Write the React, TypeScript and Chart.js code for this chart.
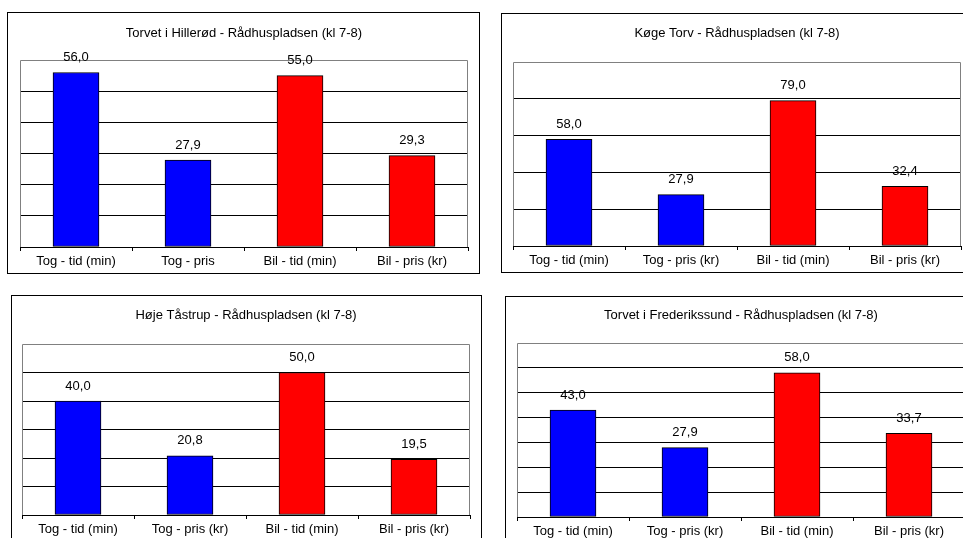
import React, { useEffect, useRef } from "react";
import { Chart, registerables } from "chart.js";

Chart.register(...registerables);

// Travel comparisons towards Rådhuspladsen, morning rush (kl 7-8)
const TITLE_HILLEROD = "Torvet i Hillerød - Rådhuspladsen (kl 7-8)";
const TITLE_KOGE = "Køge Torv - Rådhuspladsen (kl 7-8)";
const TITLE_TAASTRUP = "Høje Tåstrup - Rådhuspladsen (kl 7-8)";
const TITLE_FREDERIKSSUND = "Torvet i Frederikssund - Rådhuspladsen (kl 7-8)";

const CATEGORIES_HILLEROD = ["Tog - tid (min)", "Tog - pris", "Bil - tid (min)", "Bil - pris (kr)"];
const CATEGORIES = ["Tog - tid (min)", "Tog - pris (kr)", "Bil - tid (min)", "Bil - pris (kr)"];

const VALUES_HILLEROD = [56.0, 27.9, 55.0, 29.3];
const VALUES_KOGE = [58.0, 27.9, 79.0, 32.4];
const VALUES_TAASTRUP = [40.0, 20.8, 50.0, 19.5];
const VALUES_FREDERIKSSUND = [43.0, 27.9, 58.0, 33.7];

// Value axis ranges (ticks are hidden, only the grid shows them)
const Y_MAX = [60, 100, 60, 70];
const Y_STEP = [10, 20, 10, 10];

const BAR_COLORS = ["#0000ff", "#0000ff", "#ff0000", "#ff0000"];

const FONT_FAMILY = "'Liberation Sans', Arial, Helvetica, sans-serif";
const FONT_SIZE = 13;
const LINE_H = FONT_SIZE * 1.2;
const TICK_LEN = 4;
const TICK_PAD = 3;

type PanelLayout = {
  x: number; y: number; w: number; h: number;
  titleY: number;
  plot: { l: number; t: number; r: number; b: number };
};

// Page placement of each framed chart (plot widths kept at 4 x 112 px so bars land on whole pixels)
const LAYOUTS: PanelLayout[] = [
  { x: 7, y: 12, w: 473, h: 262, titleY: 33, plot: { l: 20, t: 60, r: 468, b: 247 } },
  { x: 501, y: 13, w: 474, h: 260, titleY: 33, plot: { l: 513, t: 62, r: 961, b: 246 } },
  { x: 11, y: 295, w: 471, h: 262, titleY: 315, plot: { l: 22, t: 344, r: 470, b: 515 } },
  { x: 505, y: 296, w: 474, h: 262, titleY: 315, plot: { l: 517, t: 343, r: 965, b: 517 } },
];

const PANELS = [
  { title: TITLE_HILLEROD, labels: CATEGORIES_HILLEROD, values: VALUES_HILLEROD },
  { title: TITLE_KOGE, labels: CATEGORIES, values: VALUES_KOGE },
  { title: TITLE_TAASTRUP, labels: CATEGORIES, values: VALUES_TAASTRUP },
  { title: TITLE_FREDERIKSSUND, labels: CATEGORIES, values: VALUES_FREDERIKSSUND },
];

const fmt = (v: number) => v.toFixed(1).replace(".", ",");

// Grey frame around the plot area (left, top, right)
const plotFrame = {
  id: "plotFrame",
  beforeDatasetsDraw(chart: any) {
    const { ctx, chartArea: a } = chart;
    ctx.save();
    ctx.strokeStyle = "#808080";
    ctx.lineWidth = 1;
    ctx.beginPath();
    const l = Math.round(a.left) + 0.5;
    const r = Math.round(a.right) - 0.5;
    const t = Math.round(a.top) + 0.5;
    const b = Math.round(a.bottom);
    ctx.moveTo(l, b);
    ctx.lineTo(l, t);
    ctx.lineTo(r, t);
    ctx.lineTo(r, b);
    ctx.stroke();
    ctx.restore();
  },
};

// Value printed above each bar
const barValues = {
  id: "barValues",
  afterDatasetsDraw(chart: any) {
    const { ctx } = chart;
    const meta = chart.getDatasetMeta(0);
    const data = chart.data.datasets[0].data as number[];
    ctx.save();
    ctx.font = `${FONT_SIZE}px ${FONT_FAMILY}`;
    ctx.fillStyle = "#000";
    ctx.textAlign = "center";
    ctx.textBaseline = "alphabetic";
    meta.data.forEach((bar: any, i: number) => {
      ctx.fillText(fmt(data[i]), bar.x, bar.y - 11.5);
    });
    ctx.restore();
  },
};

function Panel({ index }: { index: number }) {
  const ref = useRef<HTMLCanvasElement>(null);
  const L = LAYOUTS[index];
  const P = PANELS[index];
  const cx = L.x + 1;
  const cy = L.y + 1;
  const cw = L.w - 2;
  const ch = L.h - 2;

  useEffect(() => {
    if (!ref.current) return;
    const max = Y_MAX[index];
    const titleTop = L.titleY - cy - LINE_H / 2;
    const titleBottom = L.plot.t - cy - titleTop - LINE_H;
    // Chart.js reserves the tick padding on both sides of the labels
    const xAxisH = TICK_LEN + LINE_H + 2 * TICK_PAD;
    const chart = new Chart(ref.current, {
      type: "bar",
      data: {
        labels: P.labels,
        datasets: [
          {
            data: P.values,
            backgroundColor: BAR_COLORS,
            borderColor: "#000",
            borderWidth: 1,
            borderSkipped: false,
            barThickness: 46,
          },
        ],
      },
      options: {
        responsive: false,
        animation: false,
        devicePixelRatio: 1,
        events: [],
        layout: {
          padding: {
            left: L.plot.l - cx,
            right: cx + cw - L.plot.r,
            top: 0,
            bottom: cy + ch - L.plot.b - xAxisH,
          },
        },
        plugins: {
          legend: { display: false },
          tooltip: { enabled: false },
          title: {
            display: true,
            text: P.title,
            color: "#000",
            font: { family: FONT_FAMILY, size: FONT_SIZE, weight: "normal" },
            padding: { top: titleTop, bottom: titleBottom },
          },
        },
        scales: {
          x: {
            grid: {
              drawOnChartArea: false,
              drawTicks: true,
              tickLength: TICK_LEN,
              color: "#000",
              offset: true,
            },
            border: { display: true, color: "#000", width: 1 },
            ticks: {
              color: "#000",
              padding: TICK_PAD,
              maxRotation: 0,
              autoSkip: false,
              font: { family: FONT_FAMILY, size: FONT_SIZE },
            },
          },
          y: {
            min: 0,
            max,
            ticks: { display: false, stepSize: Y_STEP[index] },
            grid: {
              drawTicks: false,
              color: (c: any) => (c.tick && c.tick.value === max ? "rgba(0,0,0,0)" : "#000"),
              lineWidth: 1,
            },
            border: { display: false },
          },
        },
      },
      plugins: [plotFrame, barValues],
    });
    return () => chart.destroy();
  }, [index]);

  return (
    <div
      style={{
        position: "absolute",
        left: L.x,
        top: L.y,
        width: L.w,
        height: L.h,
        boxSizing: "border-box",
        border: "1px solid #000",
        background: "#fff",
      }}
    >
      <canvas ref={ref} width={cw} height={ch} style={{ display: "block", width: cw, height: ch }} />
    </div>
  );
}

export default function App() {
  return (
    <div
      style={{
        position: "absolute",
        left: 0,
        top: 0,
        width: 963,
        height: 538,
        overflow: "hidden",
        background: "#fff",
      }}
    >
      {PANELS.map((_, i) => (
        <Panel key={i} index={i} />
      ))}
    </div>
  );
}
